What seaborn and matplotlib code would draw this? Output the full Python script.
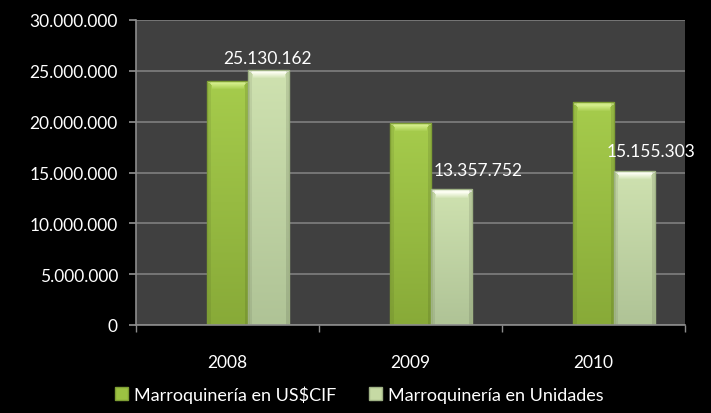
import numpy as np
import pandas as pd
import seaborn as sns
import matplotlib
matplotlib.use("Agg")
import matplotlib.pyplot as plt
from matplotlib.colors import to_rgb
from matplotlib.ticker import FuncFormatter, MultipleLocator, FixedLocator

years = ["2008", "2009", "2010"]
cif_values = [24_000_000, 19_900_000, 21_900_000]
unit_values = [25_130_162, 13_357_752, 15_155_303]
series_names = ["Marroquinería en US$CIF", "Marroquinería en Unidades"]
series_colors = ["#9CC242", "#C6DAA4"]
edge_colors = ["#7E9E34", "#9FB285"]
# gradient colours (top body, bottom body, bevel highlight) per series
shade_colors = [("#A6CC4C", "#88AA38", "#D2EC88"), ("#CFE2B0", "#AFC396", "#FBFDF0")]
# where the value labels sit relative to the top of the "Unidades" bar (pixels)
label_offsets = [(-1, 4), (26, 11), (16, 12)]

df = pd.DataFrame({
    "year": years * 2,
    "value": cif_values + unit_values,
    "series": [series_names[0]] * 3 + [series_names[1]] * 3,
})

sns.set_theme(style="dark")
plt.rcParams["font.family"] = ["Lato", "DejaVu Sans"]

fig = plt.figure(figsize=(7.11, 4.14), dpi=100, facecolor="black")
ax = fig.add_axes([136 / 711, 1 - 326 / 414, 549 / 711, 305 / 414])
ax.set_facecolor("#404040")

sns.barplot(data=df, x="year", y="value", hue="series", palette=series_colors,
            width=0.45, ax=ax, legend=False)

ax.set_ylim(0, 30_000_000)
ax.set_xlim(-0.5, 2.5)


def shade_bar(bar, top, bottom, hi, edge):
    x0, y0 = bar.get_x(), bar.get_y()
    w, h = bar.get_width(), bar.get_height()
    (px0, py0), (px1, py1) = ax.transData.transform([(x0, y0), (x0 + w, y0 + h)])
    nh, nw = max(int(round(py1 - py0)), 2), max(int(round(px1 - px0)), 2)
    t = np.linspace(0, 1, nh)[:, None]
    body = np.array(to_rgb(top)) * (1 - t) + np.array(to_rgb(bottom)) * t
    img = np.repeat(body[:, None, :], nw, axis=1).reshape(nh, nw, 3)
    # bevel highlight at the top
    hi = np.array(to_rgb(hi))
    for r in range(min(9, nh)):
        a = 1.0 if r < 3 else (9 - r) / 6
        inset = min(r, 5) if r >= 3 else 0
        img[r, inset:nw - inset] = img[r, inset:nw - inset] * (1 - a) + hi * a
    # darker side edges
    img[:, :4] *= 0.93
    img[:, -4:] *= 0.9
    im = ax.imshow(img, extent=(x0, x0 + w, y0, y0 + h), aspect="auto",
                   origin="upper", zorder=bar.get_zorder() + 0.1, interpolation="nearest")
    im.set_clip_path(bar)
    bar.set_edgecolor(edge)
    bar.set_linewidth(1.0)
    bar.set_zorder(bar.get_zorder() + 0.2)
    bar.set_facecolor("none")


for i, container in enumerate(ax.containers):
    for bar in container:
        # Excel layout leaves an empty first slot: shift each pair half a bar right
        bar.set_x(bar.get_x() + bar.get_width() / 2)
        shade_bar(bar, *shade_colors[i], edge_colors[i])

# value labels on the Unidades bars
for bar, val, off in zip(ax.containers[1], unit_values, label_offsets):
    txt = f"{val:,.0f}".replace(",", ".")
    ax.annotate(txt, (bar.get_x() + bar.get_width() / 2, bar.get_height()),
                xytext=off, textcoords="offset pixels", ha="center", va="bottom",
                color="white", fontsize=12.5, zorder=5)

ax.set_ylim(0, 30_000_000)
ax.set_xlim(-0.5, 2.5)
ax.yaxis.set_major_locator(MultipleLocator(5_000_000))
ax.yaxis.set_major_formatter(FuncFormatter(lambda v, p: f"{v:,.0f}".replace(",", ".")))
ax.xaxis.set_minor_locator(FixedLocator([-0.5, 0.5, 1.5, 2.5]))
ax.grid(axis="y", color="#7F7F7F", linewidth=1.2)
ax.set_axisbelow(True)

ax.set_xlabel("")
ax.set_ylabel("")
ax.tick_params(axis="both", colors="white", labelsize=12.5)
ax.tick_params(axis="y", which="major", length=5, color="#8C8C8C", direction="out", left=True, pad=8)
ax.tick_params(axis="x", which="major", length=0, pad=21)
ax.tick_params(axis="x", which="minor", length=5, color="#8C8C8C", direction="out", bottom=True)

for side in ["top", "right"]:
    ax.spines[side].set_visible(False)
for side in ["left", "bottom"]:
    ax.spines[side].set_color("#8C8C8C")
    ax.spines[side].set_linewidth(1.2)

handles = [plt.Rectangle((0, 0), 1, 1, facecolor=c, edgecolor=e)
           for c, e in zip(series_colors, edge_colors)]
fig.legend(handles, series_names, loc="center", bbox_to_anchor=(0.505, 0.046),
           ncol=2, frameon=False, fontsize=13, labelcolor="white",
           handlelength=0.75, handleheight=0.75, handletextpad=0.3, columnspacing=1.8)

fig.savefig("out.png", dpi=100, facecolor="black")
